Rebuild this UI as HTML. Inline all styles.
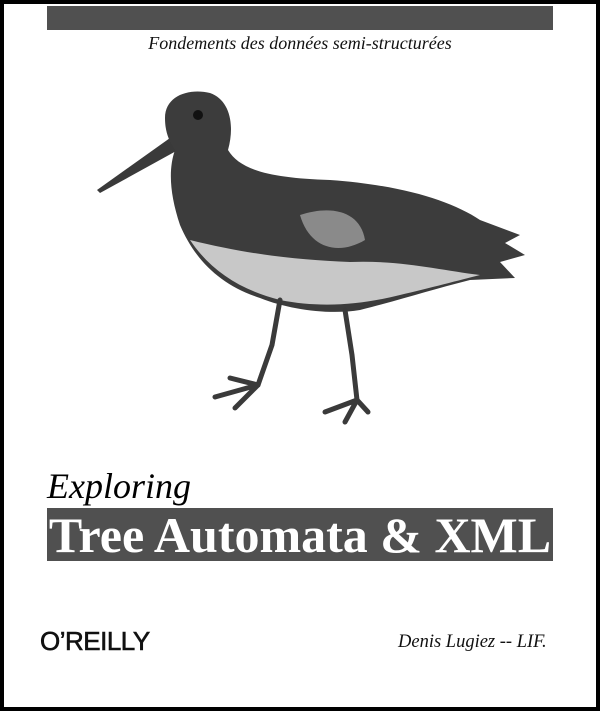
<!DOCTYPE html>
<html><head><meta charset="utf-8"><style>
html,body{margin:0;padding:0;background:#fff}
#c{position:relative;width:600px;height:711px;overflow:hidden;background:#fff;font-family:"Liberation Serif",serif}
#c .b{position:absolute;inset:0;border:4px solid #000;box-sizing:border-box}
.bar{position:absolute;background:#505050}
</style></head><body><div id="c">
<div class="b"></div>
<div class="bar" style="left:47px;top:6px;width:506px;height:24px"></div>
<div style="position:absolute;left:0;width:600px;top:33px;text-align:center;font-style:italic;font-size:18px;color:#111">Fondements des données semi-structurées</div>
<svg style="position:absolute;left:0;top:0" width="600" height="711">
<path d="M170,138 L97,190 L100,193 L178,150 Z" fill="#3a3a3a"/>
<path d="M165,118 C165,95 190,88 210,93 C230,100 235,125 228,150 C240,170 270,178 330,180 C400,185 450,200 480,220 L520,235 L505,243 L525,255 L500,262 L515,278 L470,280 C430,290 400,300 360,310 C330,315 290,310 260,298 C220,285 195,260 180,225 C170,195 168,170 175,150 C168,140 165,130 165,118 Z" fill="#3c3c3c"/>
<path d="M190,240 C210,270 240,290 280,300 C320,308 360,305 400,295 C430,288 460,280 480,275 C440,270 400,260 350,262 C300,260 250,255 190,240 Z" fill="#c8c8c8"/>
<path d="M300,215 C330,205 360,210 365,240 C340,255 310,250 300,215 Z" fill="#8a8a8a"/>
<circle cx="198" cy="115" r="5" fill="#111"/>
<g stroke="#3a3a3a" stroke-width="5" fill="none" stroke-linecap="round">
<path d="M280,300 L272,345 L258,385"/>
<path d="M258,385 L215,397 M258,385 L235,408 M258,385 L230,378"/>
<path d="M345,310 L352,355 L357,400"/>
<path d="M357,400 L325,412 M357,400 L345,422 M357,400 L368,412"/>
</g>
</svg>
<div style="position:absolute;left:47px;top:466px;font-style:italic;font-size:36px;color:#000;line-height:40px">Exploring</div>
<div class="bar" style="left:47px;top:508px;width:506px;height:53px"></div>
<div style="position:absolute;left:47px;top:508px;width:506px;height:53px;line-height:55px;text-align:center;color:#fff;font-weight:bold;font-size:50px;white-space:nowrap">Tree Automata &amp; XML</div>
<div style="position:absolute;left:40px;top:626px;font-family:'Liberation Sans',sans-serif;font-size:26px;color:#111;letter-spacing:-0.5px;-webkit-text-stroke:0.6px #111">O’REILLY</div>
<div style="position:absolute;left:398px;top:632px;font-style:italic;font-size:18.5px;color:#111">Denis Lugiez -- LIF.</div>
</div></body></html>
